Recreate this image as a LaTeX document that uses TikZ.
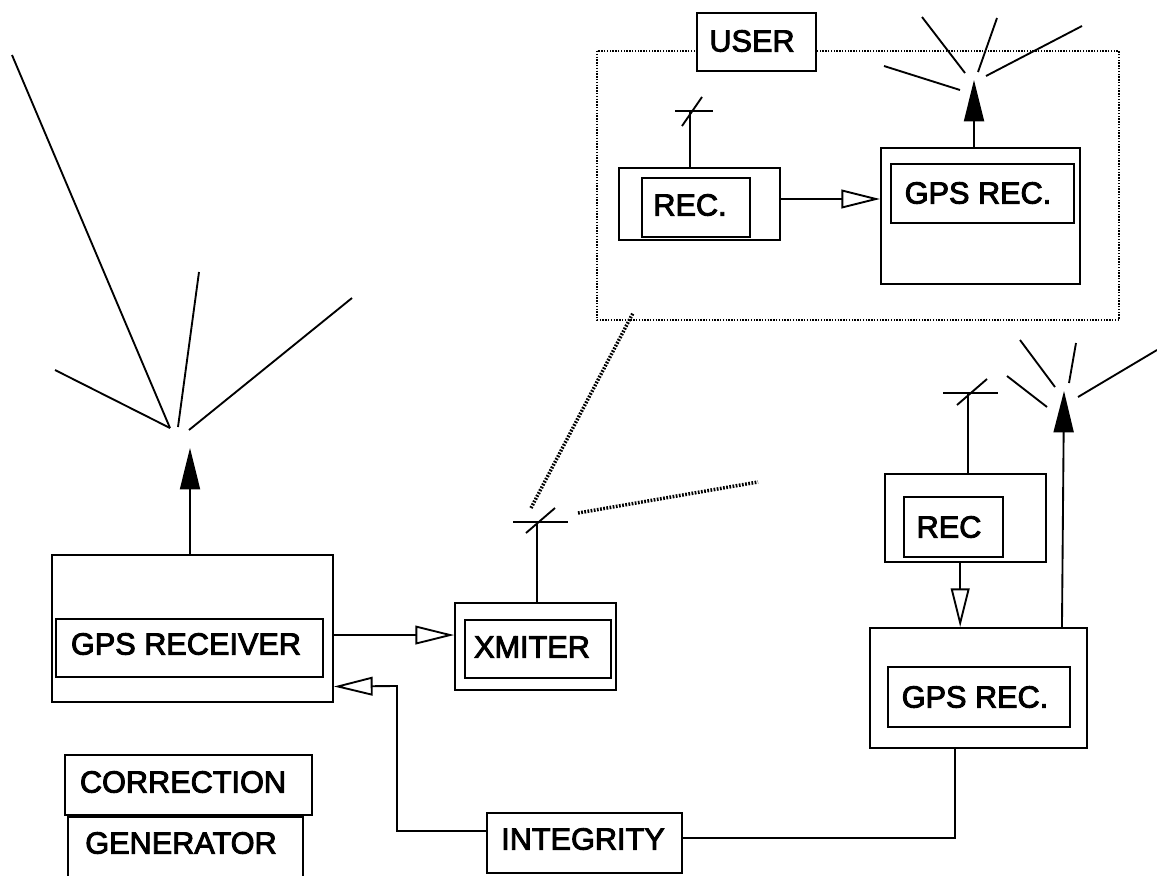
\documentclass[tikz,border=0pt]{standalone}
\usepackage{fontspec}
\setmainfont{Liberation Sans}
\newfontfamily\lblfont{Liberation Sans}[FakeBold=3]
\usetikzlibrary{arrows.meta,fit}
\begin{document}
\begin{tikzpicture}[x=0.75pt,y=-0.75pt, line width=1.4pt, line join=miter,
  bx/.style={draw, inner sep=0pt, fit={#1}},
  lbl/.style={font=\lblfont\fontsize{23}{26}\selectfont, inner sep=0pt},
  farrow/.style={-{Triangle[length=31pt,width=15pt]}},
  oarrow/.style={-{Triangle[length=29pt,width=14pt,fill=white]}},
  userframe/.style={line width=1.1pt, dash pattern=on 1pt off 1.1pt},
  radiolink/.style={line width=2.6pt, dash pattern=on 1.3pt off 1.1pt},
]
\useasboundingbox (0,0) rectangle (1157,875);
\clip (0,0) rectangle (1157,875);

% ---- user frame (dotted) ----
\draw[userframe] (597,51) rectangle (1119,320);
\node[bx={(697,13)(816,71)}, fill=white] (userB) {};
\node[lbl] (userT) at (752,41) {USER};

% ---- boxes ----
\node[bx={(52,555)(333,702)}] (gpsO) {};
\node[bx={(56,619)(323,677)}] (gpsI) {};
\node[lbl] (gpsT) at (186,644) {GPS RECEIVER};

\node[bx={(455,603)(616,690)}] (xmO) {};
\node[bx={(465,620)(611,678)}] (xmI) {};
\node[lbl] (xmT) at (532,647) {XMITER};

\node[bx={(65,755)(312,815)}] (corr) {};
\node[lbl] (corrT) at (183,782) {CORRECTION};
\node[bx={(68,817)(303,885)}] (gen) {};
\node[lbl] (genT) at (181,843) {GENERATOR};

\node[bx={(487,813)(682,873)}] (integ) {};
\node[lbl] (integT) at (583,839) {INTEGRITY};

\node[bx={(870,628)(1087,748)}] (gps2O) {};
\node[bx={(888,667)(1070,727)}] (gps2I) {};
\node[lbl] (gps2T) at (975,697) {GPS REC.};

\node[bx={(885,474)(1046,562)}] (recO) {};
\node[bx={(904,497)(1003,557)}] (recI) {};
\node[lbl] (recT) at (949,527) {REC};

\node[bx={(619,168)(780,240)}] (rec1O) {};
\node[bx={(642,178)(750,237)}] (rec1I) {};
\node[lbl] (rec1T) at (690,205) {REC.};

\node[bx={(881,148)(1080,284)}] (gps1O) {};
\node[bx={(891,164)(1074,223)}] (gps1I) {};
\node[lbl] (gps1T) at (978,193) {GPS REC.};

% ---- antenna / signal coordinates ----
\coordinate (ant0) at (690,111);
\coordinate (ant1) at (537,522);
\coordinate (ant2) at (968,393);
\coordinate (sig0) at (190,448);
\coordinate (sig1) at (974,80);
\coordinate (sig2) at (1064,391);

% ---- connectors ----
\draw[oarrow] ([yshift=-4.9pt]gpsO.east) -- ([yshift=-4.9pt]gpsO.east -| xmO.west);
\draw[oarrow] ([yshift=9pt]integ.west) -| (397,686) -- ([yshift=-43.5pt]gpsO.east);
\draw ([yshift=3.75pt]integ.east) -| ([xshift=-17.6pt]gps2O.south);
\draw[oarrow] ([xshift=-4pt]recO.south) -- ([xshift=-4pt]recO.south |- gps2O.north);
\draw[farrow] ([xshift=62.6pt]gps2O.north) -- (sig2);
\draw[oarrow] ([yshift=3.75pt]rec1O.east) -- ([yshift=3.75pt]rec1O.east -| gps1O.west);
\draw[farrow] (sig0 |- gpsO.north) -- (sig0);
\draw[farrow] (sig1 |- gps1O.north) -- (sig1);

% antennas
\draw (ant0 |- rec1O.north) -- (ant0);
\draw (ant0) ++(-15,0) -- ++(38,0);
\draw (ant0) ++(-8,15) -- ++(20,-29);
\draw (ant1 |- xmO.north) -- (ant1);
\draw (ant1) ++(-24,0) -- ++(55,0);
\draw (ant1) ++(-11,11) -- ++(29,-25);
\draw (ant2 |- recO.north) -- (ant2);
\draw (ant2) ++(-25,0) -- ++(55,0);
\draw (ant2) ++(-11,12) -- ++(30,-26);

% radio links (dotted)
\draw[radiolink] (531,508) -- (633,313);
\draw[radiolink] (578,513) -- (758,482);

% ---- radiating lines ----
\draw (12,55) -- (170,428);
\draw (55,370) -- (170,428);
\draw (199,272) -- (178,427);
\draw (352,298) -- (189,430);

\draw (922,17) -- (965,73);
\draw (997,18) -- (978,72);
\draw (1082,26) -- (986,76);
\draw (884,66) -- (960,90);

\draw (1020,340) -- (1055,387);
\draw (1076,343) -- (1069,383);
\draw (1157,350) -- (1078,397);
\draw (1007,376) -- (1047,407);
\end{tikzpicture}
\end{document}
